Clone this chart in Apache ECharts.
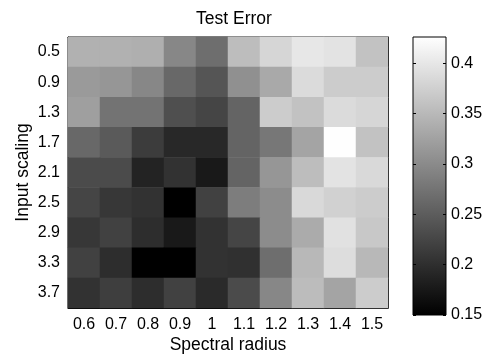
<!DOCTYPE html>
<html>
<head>
<meta charset="utf-8">
<style>
  html, body { margin: 0; padding: 0; background: #fff; }
  #chart { width: 494px; height: 359px; }
</style>
<script src="https://cdn.jsdelivr.net/npm/echarts@6/dist/echarts.min.js"></script>
</head>
<body>
<div id="chart"></div>
<script>
// Grid search of test error over spectral radius (columns) and input scaling (rows)
var spectralRadius = ['0.6', '0.7', '0.8', '0.9', '1', '1.1', '1.2', '1.3', '1.4', '1.5'];
var inputScaling = ['0.5', '0.9', '1.3', '1.7', '2.1', '2.5', '2.9', '3.3', '3.7'];

// One array per input-scaling row, values listed by spectral radius
var err_0_5 = [0.342, 0.342, 0.339, 0.296, 0.269, 0.355, 0.382, 0.400, 0.396, 0.360];
var err_0_9 = [0.317, 0.312, 0.296, 0.263, 0.242, 0.306, 0.333, 0.387, 0.371, 0.371];
var err_1_3 = [0.322, 0.274, 0.274, 0.236, 0.225, 0.258, 0.371, 0.360, 0.387, 0.382];
var err_1_7 = [0.263, 0.247, 0.215, 0.193, 0.193, 0.258, 0.279, 0.328, 0.425, 0.360];
var err_2_1 = [0.231, 0.231, 0.188, 0.204, 0.177, 0.258, 0.312, 0.355, 0.396, 0.385];
var err_2_5 = [0.225, 0.209, 0.204, 0.150, 0.220, 0.285, 0.301, 0.385, 0.376, 0.371];
var err_2_9 = [0.209, 0.220, 0.199, 0.177, 0.204, 0.225, 0.301, 0.335, 0.393, 0.366];
var err_3_3 = [0.220, 0.199, 0.150, 0.150, 0.204, 0.202, 0.269, 0.349, 0.389, 0.349];
var err_3_7 = [0.204, 0.217, 0.199, 0.220, 0.195, 0.231, 0.296, 0.353, 0.328, 0.371];

var colorbarTicks = [0.15, 0.2, 0.25, 0.3, 0.35, 0.4];
var colorMin = 0.15;
var colorMax = 0.426;

var rows = [err_0_5, err_0_9, err_1_3, err_1_7, err_2_1, err_2_5, err_2_9, err_3_3, err_3_7];
var cells = [];
rows.forEach(function (row, yi) {
  row.forEach(function (v, xi) { cells.push([xi, yi, v]); });
});

var FONT = 'Liberation Sans, Arial, sans-serif';
var FS = 16;
var FS_TITLE = 17.5;

var chart = echarts.init(document.getElementById('chart'), null, { renderer: 'canvas' });

var tickStyle = { show: true, inside: true, length: 4, lineStyle: { color: '#000', width: 1 } };
var lineStyle = { show: true, lineStyle: { color: '#000', width: 1 } };

// colorbar scale axis (ticks on both edges, labels on the right)
function colorbarAxis(side, withLabels) {
  return {
    gridIndex: 1, type: 'value', position: side,
    min: colorMin, max: colorMax, interval: 0.05,
    axisLine: { show: false }, splitLine: { show: false },
    axisTick: { show: true, inside: true, length: 3, lineStyle: { color: '#000' },
      customValues: colorbarTicks },
    axisLabel: withLabels ? {
      fontFamily: FONT, fontSize: FS, color: '#000', margin: 5,
      customValues: colorbarTicks,
      formatter: function (v) { return String(Math.round(v * 100) / 100); }
    } : { show: false }
  };
}

chart.setOption({
  animation: false,
  backgroundColor: '#fff',
  title: {
    text: 'Test Error',
    left: 229, top: 5, textAlign: 'center',
    textStyle: { fontFamily: FONT, fontSize: FS_TITLE, fontWeight: 'normal', color: '#000' }
  },
  grid: [
    { left: 68, top: 37, width: 320, height: 278, show: true, borderColor: '#000', borderWidth: 1, backgroundColor: 'transparent' },
    {
      left: 413, top: 37, width: 33, height: 278, show: true, borderColor: '#000', borderWidth: 1,
      backgroundColor: new echarts.graphic.LinearGradient(0, 0, 0, 1, [
        { offset: 0, color: '#ffffff' }, { offset: 1, color: '#000000' }
      ])
    }
  ],
  xAxis: [
    {
      gridIndex: 0, type: 'category', data: spectralRadius, position: 'bottom',
      axisLine: lineStyle, axisTick: Object.assign({ alignWithLabel: true }, tickStyle),
      axisLabel: { fontFamily: FONT, fontSize: FS, color: '#000', margin: 9, interval: 0 },
      name: 'Spectral radius', nameLocation: 'middle', nameGap: 28, nameMoveOverlap: false,
      nameTextStyle: { fontFamily: FONT, fontSize: FS_TITLE, color: '#000', verticalAlign: 'top' },
      splitLine: { show: false }
    },
    {
      gridIndex: 0, type: 'category', data: spectralRadius, position: 'top',
      axisLine: lineStyle, axisTick: Object.assign({ alignWithLabel: true }, tickStyle),
      axisLabel: { show: false }, splitLine: { show: false }
    },
    {
      gridIndex: 1, type: 'category', data: [''],
      axisLine: { show: false }, axisTick: { show: false }, axisLabel: { show: false }
    }
  ],
  yAxis: [
    {
      gridIndex: 0, type: 'category', data: inputScaling, inverse: true, position: 'left',
      axisLine: lineStyle, axisTick: Object.assign({ alignWithLabel: true }, tickStyle),
      axisLabel: { fontFamily: FONT, fontSize: FS, color: '#000', margin: 8, interval: 0 },
      name: 'Input scaling', nameLocation: 'middle', nameGap: 36, nameRotate: 90, nameMoveOverlap: false,
      nameTextStyle: { fontFamily: FONT, fontSize: FS_TITLE, color: '#000' },
      splitLine: { show: false }
    },
    {
      gridIndex: 0, type: 'category', data: inputScaling, inverse: true, position: 'right',
      axisLine: lineStyle, axisTick: Object.assign({ alignWithLabel: true }, tickStyle),
      axisLabel: { show: false }, splitLine: { show: false }
    },
    colorbarAxis('right', true),
    colorbarAxis('left', false)
  ],
  visualMap: {
    show: false, type: 'continuous', min: colorMin, max: colorMax, seriesIndex: 0,
    inRange: { color: ['#000000', '#ffffff'] }
  },
  series: [
    {
      type: 'heatmap', xAxisIndex: 0, yAxisIndex: 0, data: cells,
      itemStyle: { borderWidth: 0 }, emphasis: { disabled: true }
    }
  ]
});
</script>
</body>
</html>
